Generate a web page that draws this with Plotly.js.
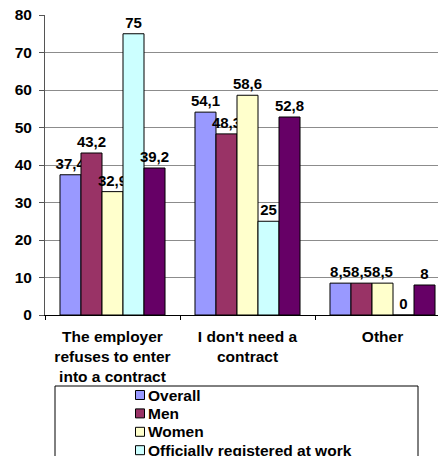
<!DOCTYPE html>
<html><head><meta charset="utf-8">
<script src="https://cdn.plot.ly/plotly-3.0.1.min.js"></script>
<style>html,body{margin:0;padding:0;overflow:hidden;background:#fff;width:438px;height:456px}#chart{width:470px;height:500px}</style>
</head><body><div id="chart"></div>
<script>
const categories = ["The employer<br>refuses to enter<br>into a contract", "I don't need a<br>contract", "Other"];
const seriesNames = ["Overall", "Men", "Women", "Officially registered at work", "Not officially registered at work"];
const overall = [37.4, 54.1, 8.5];
const men = [43.2, 48.3, 8.5];
const women = [32.9, 58.6, 8.5];
const officially = [75, 25, 0];
const unofficially = [39.2, 52.8, 8];
const colors = ["#9999FF", "#993366", "#FFFFCC", "#CCFFFF", "#660066"];
const seriesValues = [overall, men, women, officially, unofficially];

const font = "Liberation Sans, Arial, sans-serif";
const traces = seriesValues.map((vals, i) => ({
  type: "bar",
  name: seriesNames[i],
  x: categories,
  y: vals,
  text: vals.map(v => String(v).replace(".", ",")),
  textposition: "outside",
  constraintext: "none",
  cliponaxis: false,
  textfont: {family: font, size: 15, color: "#000", weight: "bold"},
  marker: {color: colors[i], line: {color: "#000", width: 1}},
  hoverinfo: "skip",
  showlegend: false
}));

const W = 470, H = 500, L = 45, T = 15, R = W - 450, B = H - 315;
const pw = W - L - R, ph = H - T - B;
const px = v => (v - L) / pw;
const py = v => (H - B - v) / ph;

// hand-drawn legend (box, swatches, labels) in paper coordinates
const legTop = 386, legFirst = 395, legStep = 18.4, swX = 140, sw = 9, txtX = 147;
const shapes = [{
  type: "rect", xref: "paper", yref: "paper",
  x0: px(55), x1: px(418), y0: py(legTop), y1: py(498),
  line: {color: "#000", width: 1}, fillcolor: "rgba(0,0,0,0)", layer: "below"
}];
const annotations = [];
seriesNames.forEach((name, i) => {
  const cy = legFirst + i * legStep;
  shapes.push({
    type: "rect", xref: "paper", yref: "paper",
    x0: px(swX - sw / 2), x1: px(swX + sw / 2), y0: py(cy - sw / 2), y1: py(cy + sw / 2),
    line: {color: "#000", width: 1}, fillcolor: colors[i]
  });
  annotations.push({
    xref: "paper", yref: "paper", x: px(txtX), y: py(cy),
    xanchor: "left", yanchor: "middle", showarrow: false, borderpad: 0,
    text: name, font: {family: font, size: 15.5, weight: "bold", color: "#000"}
  });
});

const layout = {
  width: W, height: H,
  margin: {l: L, r: R, t: T, b: B, pad: 0},
  paper_bgcolor: "#fff", plot_bgcolor: "#fff",
  barmode: "group", bargap: 0.222, bargroupgap: 0,
  showlegend: false,
  font: {family: font, color: "#000"},
  xaxis: {
    type: "category", range: [-0.5, 2.5],
    showline: true, linecolor: "#000", linewidth: 1,
    ticks: "outside", tickson: "boundaries", ticklen: 4, tickcolor: "#000",
    ticklabelstandoff: 7,
    tickfont: {family: font, size: 15.5, weight: "bold", color: "#000"},
    showgrid: false, zeroline: false, fixedrange: true
  },
  yaxis: {
    range: [0, 80], dtick: 10,
    showline: true, linecolor: "#555", linewidth: 1,
    ticks: "outside", ticklen: 5, tickcolor: "#555",
    ticklabelstandoff: 4,
    tickfont: {family: font, size: 15.5, weight: "bold", color: "#000"},
    showgrid: true, gridcolor: "#8c8c8c", gridwidth: 1,
    zeroline: false, fixedrange: true
  },
  shapes: shapes,
  annotations: annotations
};

Plotly.newPlot("chart", traces, layout, {staticPlot: true, displayModeBar: false});
</script></body></html>
